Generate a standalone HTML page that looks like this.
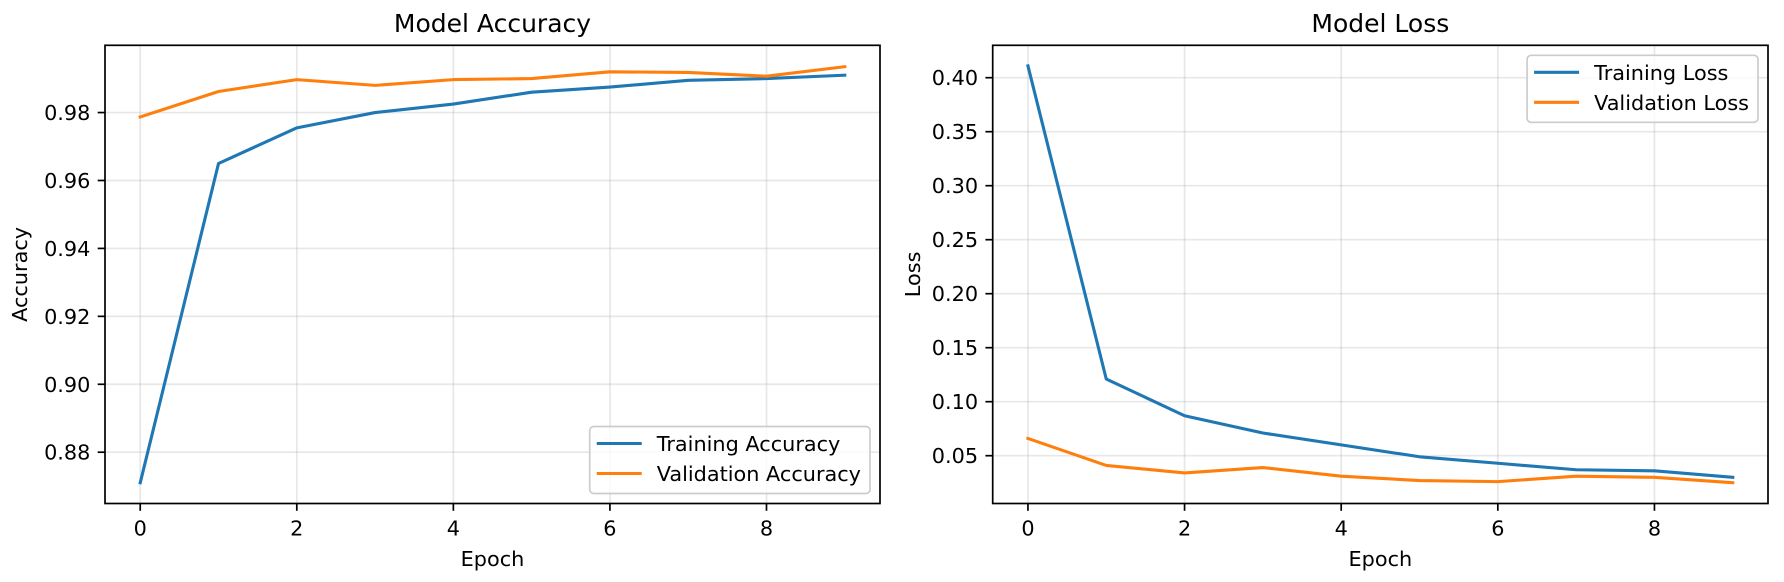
<!DOCTYPE html>
<html><head><meta charset="utf-8"><style>
html,body{margin:0;padding:0;background:#fff;}
svg{display:block;font-family:"DejaVu Sans","Liberation Sans",sans-serif;}
</style></head><body>
<svg id="fig" width="1784" height="582" viewBox="0 0 1784 582" xmlns="http://www.w3.org/2000/svg"></svg>
<script>
const epochs = [0,1,2,3,4,5,6,7,8,9];
const trainAcc = [0.871,0.965,0.9755,0.980,0.9825,0.986,0.9875,0.9895,0.990,0.991];
const valAcc = [0.9787,0.9862,0.9897,0.9880,0.9897,0.9900,0.9920,0.9918,0.9907,0.9935];
const trainLoss = [0.411,0.121,0.087,0.071,0.060,0.049,0.043,0.037,0.036,0.030];
const valLoss = [0.066,0.041,0.034,0.039,0.031,0.027,0.026,0.031,0.030,0.025];
const xTicks = [0,2,4,6,8];
const accTicks = [0.88,0.90,0.92,0.94,0.96,0.98];
const lossTicks = [0.05,0.10,0.15,0.20,0.25,0.30,0.35,0.40];

const NS = "http://www.w3.org/2000/svg";
const svg = document.getElementById('fig');
function mk(tag, attrs, parent){
  const e = document.createElementNS(NS, tag);
  for (const k in attrs) e.setAttribute(k, attrs[k]);
  (parent||svg).appendChild(e);
  return e;
}
const BLUE="#1f77b4", ORANGE="#ff7f0e";

function panel(cfg){
  const g = mk('g', {});
  
  
  const L=cfg.left, R=cfg.right, T=45.3, B=503.5;
  const xs = v => L + (v - (-0.45)) / 9.9 * (R - L);
  const ys = v => B - (v - cfg.ymin) / (cfg.ymax - cfg.ymin) * (B - T);
  xTicks.forEach(t=>{
    const l = mk('line',{x1:xs(t),x2:xs(t),y1:T,y2:B,stroke:'#b0b0b0','stroke-opacity':0.3,'stroke-width':1.7},g);
    
    
  });
  cfg.yTicks.forEach(t=>{
    const l = mk('line',{x1:L,x2:R,y1:ys(t),y2:ys(t),stroke:'#b0b0b0','stroke-opacity':0.3,'stroke-width':1.7},g);
    
    
  });
  cfg.series.forEach(s=>{
    const pts = epochs.map((e,i)=>xs(e).toFixed(2)+','+ys(s.data[i]).toFixed(2)).join(' ');
    const p = mk('polyline',{points:pts,fill:'none',stroke:s.color,'stroke-width':3.1,'stroke-linejoin':'round','stroke-linecap':'square'},g);
    
    
  });
  const fr = mk('rect',{x:L,y:T,width:R-L,height:B-T,fill:'none',stroke:'#000','stroke-width':1.7},g);
  
  
  xTicks.forEach(t=>{
    mk('line',{x1:xs(t),x2:xs(t),y1:B,y2:B+7.3,stroke:'#000','stroke-width':1.7},g);
    const tx = mk('text',{x:xs(t),y:B+32,'text-anchor':'middle','font-size':20.8,fill:'#000'},g);
    tx.textContent = String(t);
    
    
  });
  cfg.yTicks.forEach(t=>{
    mk('line',{x1:L-7.3,x2:L,y1:ys(t),y2:ys(t),stroke:'#000','stroke-width':1.7},g);
    const tx = mk('text',{x:L-14.6,y:ys(t)+7.5,'text-anchor':'end','font-size':20.8,fill:'#000'},g);
    tx.textContent = t.toFixed(2);
    
    
  });
  const title = mk('text',{x:(L+R)/2,y:32,'text-anchor':'middle','font-size':25,fill:'#000'},g);
  title.textContent = cfg.title;
  
  
  const xl = mk('text',{x:(L+R)/2,y:566,'text-anchor':'middle','font-size':20.8,fill:'#000'},g);
  xl.textContent = 'Epoch';
  
  
  const yl = mk('text',{x:0,y:0,'text-anchor':'middle','font-size':20.8,fill:'#000',transform:`translate(${cfg.ylabelX},${(T+B)/2}) rotate(-90)`},g);
  yl.textContent = cfg.ylabel;
  
  
  const lg = mk('g',{},g);
  
  
  const box = mk('rect',{rx:4,ry:4,fill:'#fff','fill-opacity':0.8,stroke:'#cccccc','stroke-width':1.7},lg);
  const texts=[];
  cfg.series.forEach(s=>{
    const t = mk('text',{'font-size':20.8,fill:'#000'},lg);
    t.textContent = s.label;
    
    
    texts.push(t);
  });
  let w = Math.max(...texts.map(t=>t.getComputedTextLength()));
  const bw = 7+45+15+w+9, bh = 67;
  const bx = R - 10 - bw;
  const by = cfg.legendTop ? T + 10 : B - 10 - bh;
  box.setAttribute('x',bx); box.setAttribute('y',by);
  box.setAttribute('width',bw); box.setAttribute('height',bh);
  cfg.series.forEach((s,i)=>{
    const cy = by + 17 + i*30;
    const ln = mk('line',{x1:bx+7,x2:bx+52,y1:cy,y2:cy,stroke:s.color,'stroke-width':3.1},lg);
    
    
    texts[i].setAttribute('x',bx+67);
    texts[i].setAttribute('y',cy+7.5);
  });
}

panel({name:'accuracy-chart',left:105,right:880,ymin:0.8649,ymax:0.9998,yTicks:accTicks,
  title:'Model Accuracy',ylabel:'Accuracy',ylabelX:27,legendTop:false,
  series:[{name:'training-accuracy-line',label:'Training Accuracy',data:trainAcc,color:BLUE},
          {name:'validation-accuracy-line',label:'Validation Accuracy',data:valAcc,color:ORANGE}]});
panel({name:'loss-chart',left:992.7,right:1768,ymin:0.05-(503.5-455.7)/1080,ymax:0.40+(77.7-45.3)/1080,yTicks:lossTicks,
  title:'Model Loss',ylabel:'Loss',ylabelX:920,legendTop:true,
  series:[{name:'training-loss-line',label:'Training Loss',data:trainLoss,color:BLUE},
          {name:'validation-loss-line',label:'Validation Loss',data:valLoss,color:ORANGE}]});
</script>
</body></html>
